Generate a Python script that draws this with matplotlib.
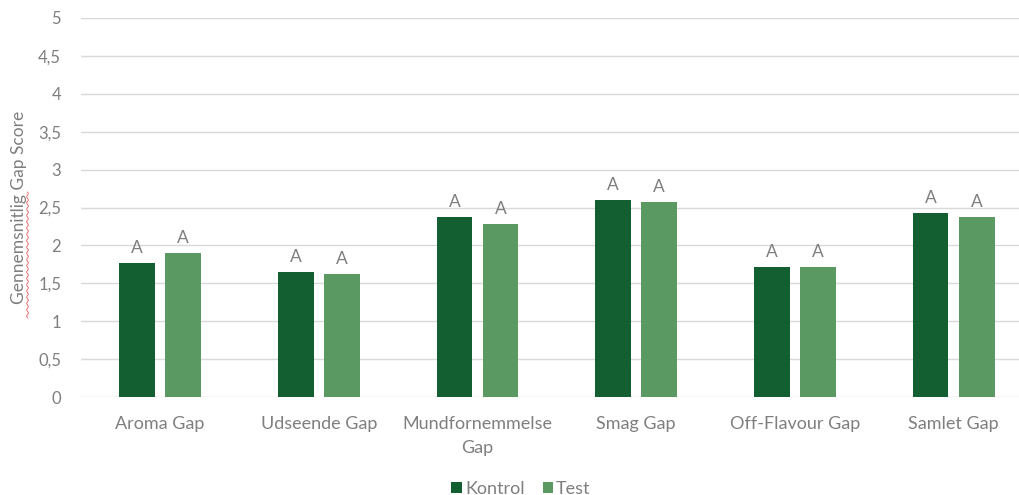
import matplotlib
matplotlib.use("Agg")
import matplotlib.pyplot as plt
import numpy as np
from matplotlib.ticker import FuncFormatter

categories = ["Aroma Gap", "Udseende Gap", "Mundfornemmelse\nGap", "Smag Gap", "Off-Flavour Gap", "Samlet Gap"]
kontrol = [1.77, 1.645, 2.37, 2.60, 1.71, 2.43]
test = [1.90, 1.62, 2.28, 2.57, 1.72, 2.37]
kontrol_letters = ["A", "A", "A", "A", "A", "A"]
test_letters = ["A", "A", "A", "A", "A", "A"]
series_names = ["Kontrol", "Test"]

plt.rcParams['font.family'] = ['Lato', 'DejaVu Sans']
gray = "#7F7F7F"
c_dark = "#145F32"
c_light = "#5A9A62"

fig = plt.figure(figsize=(10.2, 4.95), dpi=100)
W, H = 1020, 495
left, right, bottom, top = 80.6, 1033, 397, 18
ax = fig.add_axes([left / W, (H - bottom) / H, (right - left) / W, (bottom - top) / H])

x = np.arange(len(categories))
w = 0.225
off = 0.145
b1 = ax.bar(x - off, kontrol, w, color=c_dark, label=series_names[0], zorder=3)
b2 = ax.bar(x + off, test, w, color=c_light, label=series_names[1], zorder=3)

for bars, letters in ((b1, kontrol_letters), (b2, test_letters)):
    for r, t in zip(bars, letters):
        ax.annotate(t, (r.get_x() + r.get_width() / 2, r.get_height()),
                    xytext=(0, 5), textcoords="offset points", ha="center", va="bottom",
                    color=gray, fontsize=12.5)

ax.set_xlim(-0.5, len(categories) - 0.5)
ax.set_ylim(0, 5)
ax.set_yticks(np.arange(0, 5.01, 0.5))
ax.yaxis.set_major_formatter(FuncFormatter(lambda v, p: ("%g" % v).replace(".", ",")))
ax.set_xticks(x)
ax.set_xticklabels(categories, linespacing=1.6)
ax.tick_params(axis="both", length=0, colors=gray)
ax.tick_params(axis="x", pad=14, labelsize=13)
ax.tick_params(axis="y", pad=14, labelsize=12)
ax.grid(axis="y", color="#D9D9D9", linewidth=1, zorder=0)
for s in ax.spines.values():
    s.set_visible(False)
ax.set_ylabel("Gennemsnitlig Gap Score", color=gray, fontsize=12.5, labelpad=8)

# spell-check wavy underline under "Gennemsnitlig"
yy = np.linspace(192, 318, 300)
xx = 27.5 + 0.8 * np.sin((yy - 192) / 1.0)
fig.add_artist(plt.Line2D(xx / W, 1 - yy / H, color="#E8585A", linewidth=0.6))

fig.legend(handles=[b1, b2], labels=series_names, loc="center", bbox_to_anchor=(521 / W, 1 - 489 / H),
           ncol=2, frameon=False, fontsize=13, labelcolor=gray, handlelength=0.6, handleheight=0.6,
           handletextpad=0.15, columnspacing=1.0)

fig.savefig("out.png", dpi=100)
